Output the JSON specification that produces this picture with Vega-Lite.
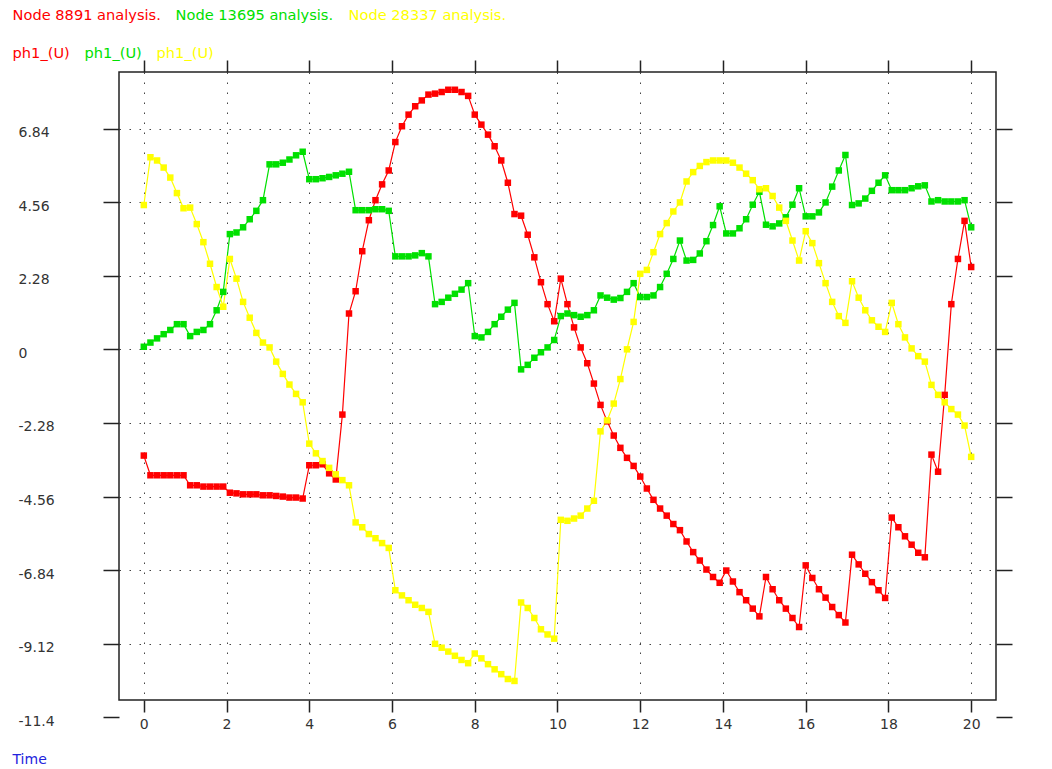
{
"$schema":"https://vega.github.io/schema/vega-lite/v6.json",
"width":877,"height":628,
"autosize":{"type":"none"},
"padding":{"left":119,"top":72,"right":56,"bottom":69},
"background":"white",
"config":{"view":{"stroke":"#222222","strokeWidth":1.5},"font":"DejaVu Sans"},
"datasets":{"d":[
{"t":0,"id":"8891","v":-3.29},{"t":0.16,"id":"8891","v":-3.9},{"t":0.32,"id":"8891","v":-3.9},{"t":0.48,"id":"8891","v":-3.9},{"t":0.64,"id":"8891","v":-3.9},{"t":0.8,"id":"8891","v":-3.9},{"t":0.96,"id":"8891","v":-3.9},{"t":1.12,"id":"8891","v":-4.21},{"t":1.28,"id":"8891","v":-4.21},{"t":1.44,"id":"8891","v":-4.25},{"t":1.6,"id":"8891","v":-4.25},{"t":1.76,"id":"8891","v":-4.25},{"t":1.92,"id":"8891","v":-4.25},{"t":2.08,"id":"8891","v":-4.44},{"t":2.24,"id":"8891","v":-4.46},{"t":2.4,"id":"8891","v":-4.49},{"t":2.56,"id":"8891","v":-4.49},{"t":2.72,"id":"8891","v":-4.49},{"t":2.88,"id":"8891","v":-4.52},{"t":3.04,"id":"8891","v":-4.52},{"t":3.2,"id":"8891","v":-4.54},{"t":3.36,"id":"8891","v":-4.56},{"t":3.52,"id":"8891","v":-4.59},{"t":3.68,"id":"8891","v":-4.59},{"t":3.84,"id":"8891","v":-4.62},{"t":4,"id":"8891","v":-3.59},{"t":4.16,"id":"8891","v":-3.59},{"t":4.32,"id":"8891","v":-3.56},{"t":4.48,"id":"8891","v":-3.84},{"t":4.64,"id":"8891","v":-4.03},{"t":4.8,"id":"8891","v":-2.02},{"t":4.96,"id":"8891","v":1.11},{"t":5.12,"id":"8891","v":1.8},{"t":5.28,"id":"8891","v":3.04},{"t":5.44,"id":"8891","v":4.0},{"t":5.6,"id":"8891","v":4.62},{"t":5.76,"id":"8891","v":5.11},{"t":5.92,"id":"8891","v":5.54},{"t":6.08,"id":"8891","v":6.42},{"t":6.24,"id":"8891","v":6.91},{"t":6.4,"id":"8891","v":7.27},{"t":6.56,"id":"8891","v":7.53},{"t":6.72,"id":"8891","v":7.71},{"t":6.88,"id":"8891","v":7.89},{"t":7.04,"id":"8891","v":7.92},{"t":7.2,"id":"8891","v":7.97},{"t":7.36,"id":"8891","v":8.04},{"t":7.52,"id":"8891","v":8.04},{"t":7.68,"id":"8891","v":7.97},{"t":7.84,"id":"8891","v":7.85},{"t":8,"id":"8891","v":7.27},{"t":8.16,"id":"8891","v":6.96},{"t":8.32,"id":"8891","v":6.65},{"t":8.48,"id":"8891","v":6.29},{"t":8.64,"id":"8891","v":5.85},{"t":8.8,"id":"8891","v":5.16},{"t":8.96,"id":"8891","v":4.19},{"t":9.12,"id":"8891","v":4.14},{"t":9.28,"id":"8891","v":3.55},{"t":9.44,"id":"8891","v":2.85},{"t":9.6,"id":"8891","v":2.08},{"t":9.76,"id":"8891","v":1.4},{"t":9.92,"id":"8891","v":0.87},{"t":10.08,"id":"8891","v":2.19},{"t":10.24,"id":"8891","v":1.4},{"t":10.4,"id":"8891","v":0.68},{"t":10.56,"id":"8891","v":0.06},{"t":10.72,"id":"8891","v":-0.43},{"t":10.88,"id":"8891","v":-1.06},{"t":11.04,"id":"8891","v":-1.72},{"t":11.2,"id":"8891","v":-2.23},{"t":11.36,"id":"8891","v":-2.67},{"t":11.52,"id":"8891","v":-3.05},{"t":11.68,"id":"8891","v":-3.36},{"t":11.84,"id":"8891","v":-3.61},{"t":12,"id":"8891","v":-3.94},{"t":12.16,"id":"8891","v":-4.31},{"t":12.32,"id":"8891","v":-4.66},{"t":12.48,"id":"8891","v":-4.93},{"t":12.64,"id":"8891","v":-5.15},{"t":12.8,"id":"8891","v":-5.41},{"t":12.96,"id":"8891","v":-5.6},{"t":13.12,"id":"8891","v":-5.95},{"t":13.28,"id":"8891","v":-6.28},{"t":13.44,"id":"8891","v":-6.54},{"t":13.6,"id":"8891","v":-6.82},{"t":13.76,"id":"8891","v":-7.05},{"t":13.92,"id":"8891","v":-7.23},{"t":14.08,"id":"8891","v":-6.85},{"t":14.24,"id":"8891","v":-7.19},{"t":14.4,"id":"8891","v":-7.52},{"t":14.56,"id":"8891","v":-7.77},{"t":14.72,"id":"8891","v":-8.03},{"t":14.88,"id":"8891","v":-8.27},{"t":15.04,"id":"8891","v":-7.05},{"t":15.2,"id":"8891","v":-7.43},{"t":15.36,"id":"8891","v":-7.77},{"t":15.52,"id":"8891","v":-8.03},{"t":15.68,"id":"8891","v":-8.32},{"t":15.84,"id":"8891","v":-8.6},{"t":16,"id":"8891","v":-6.69},{"t":16.16,"id":"8891","v":-7.08},{"t":16.32,"id":"8891","v":-7.43},{"t":16.48,"id":"8891","v":-7.69},{"t":16.64,"id":"8891","v":-7.98},{"t":16.8,"id":"8891","v":-8.23},{"t":16.96,"id":"8891","v":-8.46},{"t":17.12,"id":"8891","v":-6.36},{"t":17.28,"id":"8891","v":-6.66},{"t":17.44,"id":"8891","v":-6.95},{"t":17.6,"id":"8891","v":-7.21},{"t":17.76,"id":"8891","v":-7.46},{"t":17.92,"id":"8891","v":-7.7},{"t":18.08,"id":"8891","v":-5.21},{"t":18.24,"id":"8891","v":-5.51},{"t":18.4,"id":"8891","v":-5.79},{"t":18.56,"id":"8891","v":-6.05},{"t":18.72,"id":"8891","v":-6.3},{"t":18.88,"id":"8891","v":-6.44},{"t":19.04,"id":"8891","v":-3.26},{"t":19.2,"id":"8891","v":-3.79},{"t":19.36,"id":"8891","v":-1.41},{"t":19.52,"id":"8891","v":1.4},{"t":19.68,"id":"8891","v":2.8},{"t":19.84,"id":"8891","v":3.98},{"t":20,"id":"8891","v":2.55},
{"t":0,"id":"13695","v":0.08},{"t":0.16,"id":"13695","v":0.21},{"t":0.32,"id":"13695","v":0.34},{"t":0.48,"id":"13695","v":0.47},{"t":0.64,"id":"13695","v":0.6},{"t":0.8,"id":"13695","v":0.78},{"t":0.96,"id":"13695","v":0.78},{"t":1.12,"id":"13695","v":0.41},{"t":1.28,"id":"13695","v":0.54},{"t":1.44,"id":"13695","v":0.6},{"t":1.6,"id":"13695","v":0.78},{"t":1.76,"id":"13695","v":1.21},{"t":1.92,"id":"13695","v":1.78},{"t":2.08,"id":"13695","v":3.57},{"t":2.24,"id":"13695","v":3.62},{"t":2.4,"id":"13695","v":3.78},{"t":2.56,"id":"13695","v":4.03},{"t":2.72,"id":"13695","v":4.29},{"t":2.88,"id":"13695","v":4.62},{"t":3.04,"id":"13695","v":5.73},{"t":3.2,"id":"13695","v":5.73},{"t":3.36,"id":"13695","v":5.78},{"t":3.52,"id":"13695","v":5.88},{"t":3.68,"id":"13695","v":6.01},{"t":3.84,"id":"13695","v":6.12},{"t":4,"id":"13695","v":5.27},{"t":4.16,"id":"13695","v":5.27},{"t":4.32,"id":"13695","v":5.3},{"t":4.48,"id":"13695","v":5.34},{"t":4.64,"id":"13695","v":5.39},{"t":4.8,"id":"13695","v":5.44},{"t":4.96,"id":"13695","v":5.5},{"t":5.12,"id":"13695","v":4.31},{"t":5.28,"id":"13695","v":4.31},{"t":5.44,"id":"13695","v":4.31},{"t":5.6,"id":"13695","v":4.34},{"t":5.76,"id":"13695","v":4.34},{"t":5.92,"id":"13695","v":4.29},{"t":6.08,"id":"13695","v":2.88},{"t":6.24,"id":"13695","v":2.88},{"t":6.4,"id":"13695","v":2.88},{"t":6.56,"id":"13695","v":2.91},{"t":6.72,"id":"13695","v":2.98},{"t":6.88,"id":"13695","v":2.88},{"t":7.04,"id":"13695","v":1.4},{"t":7.2,"id":"13695","v":1.47},{"t":7.36,"id":"13695","v":1.6},{"t":7.52,"id":"13695","v":1.72},{"t":7.68,"id":"13695","v":1.85},{"t":7.84,"id":"13695","v":2.05},{"t":8,"id":"13695","v":0.41},{"t":8.16,"id":"13695","v":0.37},{"t":8.32,"id":"13695","v":0.54},{"t":8.48,"id":"13695","v":0.78},{"t":8.64,"id":"13695","v":1.01},{"t":8.8,"id":"13695","v":1.23},{"t":8.96,"id":"13695","v":1.44},{"t":9.12,"id":"13695","v":-0.62},{"t":9.28,"id":"13695","v":-0.48},{"t":9.44,"id":"13695","v":-0.26},{"t":9.6,"id":"13695","v":-0.09},{"t":9.76,"id":"13695","v":0.06},{"t":9.92,"id":"13695","v":0.29},{"t":10.08,"id":"13695","v":1.03},{"t":10.24,"id":"13695","v":1.11},{"t":10.4,"id":"13695","v":1.06},{"t":10.56,"id":"13695","v":1.01},{"t":10.72,"id":"13695","v":1.06},{"t":10.88,"id":"13695","v":1.21},{"t":11.04,"id":"13695","v":1.67},{"t":11.2,"id":"13695","v":1.6},{"t":11.36,"id":"13695","v":1.54},{"t":11.52,"id":"13695","v":1.59},{"t":11.68,"id":"13695","v":1.78},{"t":11.84,"id":"13695","v":2.05},{"t":12,"id":"13695","v":1.62},{"t":12.16,"id":"13695","v":1.62},{"t":12.32,"id":"13695","v":1.67},{"t":12.48,"id":"13695","v":1.93},{"t":12.64,"id":"13695","v":2.34},{"t":12.8,"id":"13695","v":2.8},{"t":12.96,"id":"13695","v":3.37},{"t":13.12,"id":"13695","v":2.75},{"t":13.28,"id":"13695","v":2.77},{"t":13.44,"id":"13695","v":2.97},{"t":13.6,"id":"13695","v":3.35},{"t":13.76,"id":"13695","v":3.85},{"t":13.92,"id":"13695","v":4.43},{"t":14.08,"id":"13695","v":3.59},{"t":14.24,"id":"13695","v":3.59},{"t":14.4,"id":"13695","v":3.75},{"t":14.56,"id":"13695","v":4.03},{"t":14.72,"id":"13695","v":4.48},{"t":14.88,"id":"13695","v":4.88},{"t":15.04,"id":"13695","v":3.86},{"t":15.2,"id":"13695","v":3.81},{"t":15.36,"id":"13695","v":3.9},{"t":15.52,"id":"13695","v":4.09},{"t":15.68,"id":"13695","v":4.48},{"t":15.84,"id":"13695","v":4.99},{"t":16,"id":"13695","v":4.12},{"t":16.16,"id":"13695","v":4.12},{"t":16.32,"id":"13695","v":4.24},{"t":16.48,"id":"13695","v":4.55},{"t":16.64,"id":"13695","v":5.04},{"t":16.8,"id":"13695","v":5.54},{"t":16.96,"id":"13695","v":6.02},{"t":17.12,"id":"13695","v":4.47},{"t":17.28,"id":"13695","v":4.52},{"t":17.44,"id":"13695","v":4.67},{"t":17.6,"id":"13695","v":4.91},{"t":17.76,"id":"13695","v":5.16},{"t":17.92,"id":"13695","v":5.39},{"t":18.08,"id":"13695","v":4.93},{"t":18.24,"id":"13695","v":4.93},{"t":18.4,"id":"13695","v":4.93},{"t":18.56,"id":"13695","v":4.99},{"t":18.72,"id":"13695","v":5.05},{"t":18.88,"id":"13695","v":5.08},{"t":19.04,"id":"13695","v":4.58},{"t":19.2,"id":"13695","v":4.62},{"t":19.36,"id":"13695","v":4.58},{"t":19.52,"id":"13695","v":4.58},{"t":19.68,"id":"13695","v":4.58},{"t":19.84,"id":"13695","v":4.62},{"t":20,"id":"13695","v":3.78},
{"t":0,"id":"28337","v":4.47},{"t":0.16,"id":"28337","v":5.95},{"t":0.32,"id":"28337","v":5.85},{"t":0.48,"id":"28337","v":5.63},{"t":0.64,"id":"28337","v":5.32},{"t":0.8,"id":"28337","v":4.84},{"t":0.96,"id":"28337","v":4.37},{"t":1.12,"id":"28337","v":4.39},{"t":1.28,"id":"28337","v":3.88},{"t":1.44,"id":"28337","v":3.32},{"t":1.6,"id":"28337","v":2.65},{"t":1.76,"id":"28337","v":1.93},{"t":1.92,"id":"28337","v":1.32},{"t":2.08,"id":"28337","v":2.8},{"t":2.24,"id":"28337","v":2.19},{"t":2.4,"id":"28337","v":1.47},{"t":2.56,"id":"28337","v":0.98},{"t":2.72,"id":"28337","v":0.51},{"t":2.88,"id":"28337","v":0.21},{"t":3.04,"id":"28337","v":0.06},{"t":3.2,"id":"28337","v":-0.38},{"t":3.36,"id":"28337","v":-0.76},{"t":3.52,"id":"28337","v":-1.09},{"t":3.68,"id":"28337","v":-1.38},{"t":3.84,"id":"28337","v":-1.64},{"t":4,"id":"28337","v":-2.92},{"t":4.16,"id":"28337","v":-3.22},{"t":4.32,"id":"28337","v":-3.46},{"t":4.48,"id":"28337","v":-3.67},{"t":4.64,"id":"28337","v":-3.87},{"t":4.8,"id":"28337","v":-4.05},{"t":4.96,"id":"28337","v":-4.21},{"t":5.12,"id":"28337","v":-5.36},{"t":5.28,"id":"28337","v":-5.51},{"t":5.44,"id":"28337","v":-5.72},{"t":5.6,"id":"28337","v":-5.85},{"t":5.76,"id":"28337","v":-6.0},{"t":5.92,"id":"28337","v":-6.15},{"t":6.08,"id":"28337","v":-7.46},{"t":6.24,"id":"28337","v":-7.62},{"t":6.4,"id":"28337","v":-7.77},{"t":6.56,"id":"28337","v":-7.91},{"t":6.72,"id":"28337","v":-8.01},{"t":6.88,"id":"28337","v":-8.13},{"t":7.04,"id":"28337","v":-9.12},{"t":7.2,"id":"28337","v":-9.24},{"t":7.36,"id":"28337","v":-9.36},{"t":7.52,"id":"28337","v":-9.49},{"t":7.68,"id":"28337","v":-9.62},{"t":7.84,"id":"28337","v":-9.72},{"t":8,"id":"28337","v":-9.42},{"t":8.16,"id":"28337","v":-9.57},{"t":8.32,"id":"28337","v":-9.75},{"t":8.48,"id":"28337","v":-9.91},{"t":8.64,"id":"28337","v":-10.06},{"t":8.8,"id":"28337","v":-10.21},{"t":8.96,"id":"28337","v":-10.27},{"t":9.12,"id":"28337","v":-7.84},{"t":9.28,"id":"28337","v":-8.01},{"t":9.44,"id":"28337","v":-8.32},{"t":9.6,"id":"28337","v":-8.67},{"t":9.76,"id":"28337","v":-8.83},{"t":9.92,"id":"28337","v":-8.96},{"t":10.08,"id":"28337","v":-5.28},{"t":10.24,"id":"28337","v":-5.31},{"t":10.4,"id":"28337","v":-5.24},{"t":10.56,"id":"28337","v":-5.15},{"t":10.72,"id":"28337","v":-4.93},{"t":10.88,"id":"28337","v":-4.69},{"t":11.04,"id":"28337","v":-2.54},{"t":11.2,"id":"28337","v":-2.2},{"t":11.36,"id":"28337","v":-1.68},{"t":11.52,"id":"28337","v":-0.92},{"t":11.68,"id":"28337","v":0.0},{"t":11.84,"id":"28337","v":0.85},{"t":12,"id":"28337","v":2.34},{"t":12.16,"id":"28337","v":2.46},{"t":12.32,"id":"28337","v":3.01},{"t":12.48,"id":"28337","v":3.57},{"t":12.64,"id":"28337","v":3.91},{"t":12.8,"id":"28337","v":4.27},{"t":12.96,"id":"28337","v":4.55},{"t":13.12,"id":"28337","v":5.2},{"t":13.28,"id":"28337","v":5.49},{"t":13.44,"id":"28337","v":5.68},{"t":13.6,"id":"28337","v":5.8},{"t":13.76,"id":"28337","v":5.85},{"t":13.92,"id":"28337","v":5.85},{"t":14.08,"id":"28337","v":5.85},{"t":14.24,"id":"28337","v":5.78},{"t":14.4,"id":"28337","v":5.63},{"t":14.56,"id":"28337","v":5.44},{"t":14.72,"id":"28337","v":5.24},{"t":14.88,"id":"28337","v":4.96},{"t":15.04,"id":"28337","v":4.99},{"t":15.2,"id":"28337","v":4.75},{"t":15.36,"id":"28337","v":4.39},{"t":15.52,"id":"28337","v":3.98},{"t":15.68,"id":"28337","v":3.37},{"t":15.84,"id":"28337","v":2.75},{"t":16,"id":"28337","v":3.66},{"t":16.16,"id":"28337","v":3.29},{"t":16.32,"id":"28337","v":2.67},{"t":16.48,"id":"28337","v":2.05},{"t":16.64,"id":"28337","v":1.47},{"t":16.8,"id":"28337","v":1.03},{"t":16.96,"id":"28337","v":0.82},{"t":17.12,"id":"28337","v":2.11},{"t":17.28,"id":"28337","v":1.6},{"t":17.44,"id":"28337","v":1.21},{"t":17.6,"id":"28337","v":0.9},{"t":17.76,"id":"28337","v":0.7},{"t":17.92,"id":"28337","v":0.54},{"t":18.08,"id":"28337","v":1.44},{"t":18.24,"id":"28337","v":0.78},{"t":18.4,"id":"28337","v":0.37},{"t":18.56,"id":"28337","v":0.03},{"t":18.72,"id":"28337","v":-0.21},{"t":18.88,"id":"28337","v":-0.38},{"t":19.04,"id":"28337","v":-1.1},{"t":19.2,"id":"28337","v":-1.41},{"t":19.36,"id":"28337","v":-1.64},{"t":19.52,"id":"28337","v":-1.85},{"t":19.68,"id":"28337","v":-2.02},{"t":19.84,"id":"28337","v":-2.36},{"t":20,"id":"28337","v":-3.33}
]},
"data":{"name":"d"},
"encoding":{
 "color":{"field":"id","type":"nominal","scale":{"domain":["8891","13695","28337"],"range":["#ff0000","#00e000","#ffff00"]},
  "legend":{"orient":"none","legendX":-121,"legendY":-63,"direction":"horizontal","title":null,"symbolSize":0,"symbolOpacity":0,"symbolStrokeWidth":0,"labelOffset":0,"labelFontSize":14.6,"labelFont":"DejaVu Sans","columnPadding":0,"padding":0,"labelLimit":0,"labelExpr":"'Node ' + datum.label + ' analysis.'","labelColor":{"expr":"scale('color', datum.value)"}}}
},
"resolve":{"axis":{"x":"independent","y":"independent"},"scale":{"y":"independent"}},
"layer":[
 {"mark":{"type":"line","strokeWidth":1.2},
  "encoding":{
   "x":{"field":"t","type":"quantitative","scale":{"domain":[-0.6,20.6],"nice":false,"zero":false},
    "axis":{"orient":"bottom","values":[0,2,4,6,8,10,12,14,16,18,20],"tickSize":12,"tickColor":"#222222","tickWidth":1.5,"domain":false,"grid":true,"gridColor":"#444444","gridDash":[1.5,8.5],"gridWidth":1,"labelFontSize":14,"labelFont":"DejaVu Sans","labelColor":"#333333","labelPadding":5,"labelFlush":false,"labelExpr":"'' + datum.value","title":"Time","titleX":-107,"titleY":59,"titleAlign":"left","titleBaseline":"middle","titleColor":"#2323dd","titleFontWeight":"normal","titleFontSize":14,"titleFont":"DejaVu Sans"}},
   "y":{"field":"v","type":"quantitative","scale":{"domain":[-10.86,8.59],"nice":false,"zero":false},
    "axis":{"orient":"left","values":[-9.12,-6.84,-4.56,-2.28,0,2.28,4.56,6.84],"tickSize":16,"tickColor":"#222222","tickWidth":1.5,"domain":false,"grid":true,"gridColor":"#444444","gridDash":[1.5,8.5],"gridWidth":1,"labelFontSize":14,"labelFont":"DejaVu Sans","labelColor":"#333333","labelAlign":"left","labelBaseline":"middle","labelPadding":85,"labelOffset":4,"labelFlush":false,"labelExpr":"'' + datum.value","title":null}}
  }},
 {"mark":{"type":"point","filled":true,"opacity":1,"size":42},
  "encoding":{
   "x":{"field":"t","type":"quantitative","axis":null},
   "y":{"field":"v","type":"quantitative","scale":{"domain":[-10.86,8.59],"nice":false,"zero":false},"axis":null},
   "shape":{"field":"id","type":"nominal","sort":["8891","13695","28337"],"scale":{"range":["square","square","square"]},
    "legend":{"orient":"none","legendX":-121,"legendY":-25,"direction":"horizontal","title":null,"symbolSize":0,"symbolOpacity":0,"symbolStrokeWidth":0,"labelOffset":0,"labelFontSize":14.6,"labelFont":"DejaVu Sans","columnPadding":0,"padding":0,"labelLimit":0,"labelExpr":"'ph1_(U)'","labelColor":{"expr":"scale('color', datum.value)"}}}
  }},
 {"mark":{"type":"point","opacity":0},
  "encoding":{
   "x":{"field":"t","type":"quantitative","axis":{"orient":"top","values":[0,2,4,6,8,10,12,14,16,18,20],"tickSize":12,"tickColor":"#222222","tickWidth":1.5,"domain":false,"grid":false,"labels":false,"title":null}},
   "y":{"field":"v","type":"quantitative","scale":{"domain":[-10.86,8.59],"nice":false,"zero":false},"axis":{"orient":"right","values":[-9.12,-6.84,-4.56,-2.28,0,2.28,4.56,6.84],"tickSize":16,"tickColor":"#222222","tickWidth":1.5,"domain":false,"grid":false,"labels":false,"title":null}}
  }},
 {"mark":{"type":"point","opacity":0},
  "encoding":{
   "x":{"field":"t","type":"quantitative","axis":null},
   "y":{"field":"v","type":"quantitative","scale":{"domain":[-11.4,8.05],"nice":false,"zero":false},"axis":{"orient":"left","values":[-11.4],"tickOffset":17,"tickSize":16,"tickColor":"#222222","tickWidth":1.5,"domain":false,"grid":false,"labelFontSize":14,"labelFont":"DejaVu Sans","labelColor":"#333333","labelAlign":"left","labelBaseline":"middle","labelPadding":85,"labelOffset":4,"labelFlush":false,"labelExpr":"'' + datum.value","title":null}}
  }},
 {"mark":{"type":"point","opacity":0},
  "encoding":{
   "x":{"field":"t","type":"quantitative","axis":null},
   "y":{"field":"v","type":"quantitative","scale":{"domain":[-11.4,8.05],"nice":false,"zero":false},"axis":{"orient":"right","values":[-11.4],"tickOffset":17,"tickSize":16,"tickColor":"#222222","tickWidth":1.5,"domain":false,"grid":false,"labels":false,"title":null}}
  }}
]
}
